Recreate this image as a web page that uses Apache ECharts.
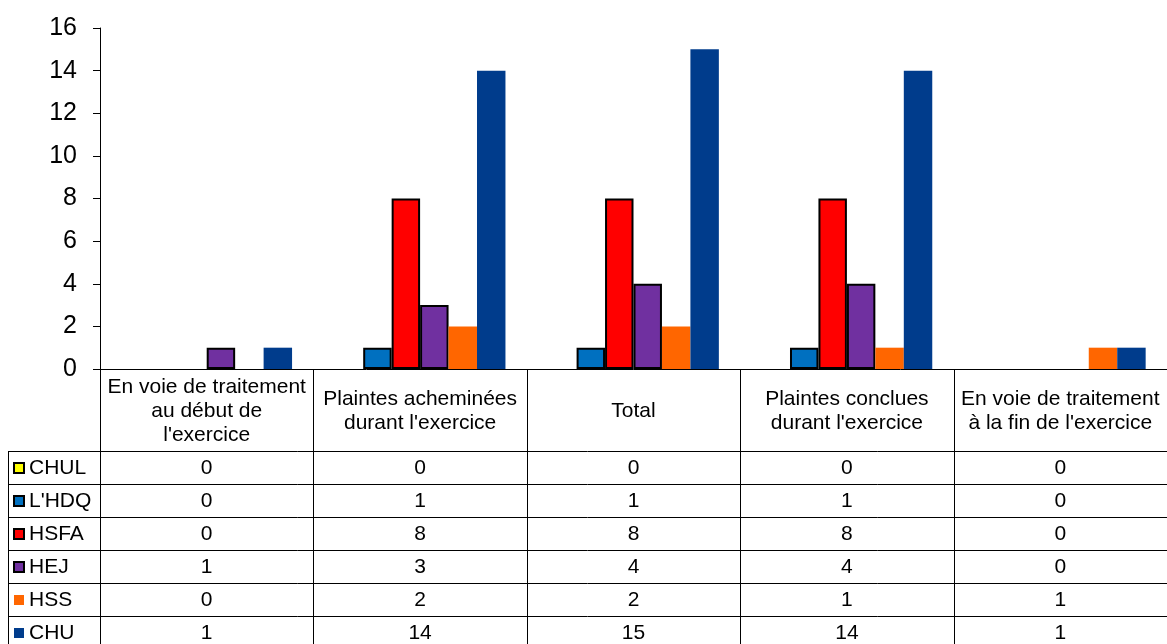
<!DOCTYPE html>
<html>
<head>
<meta charset="utf-8">
<script src="https://cdn.jsdelivr.net/npm/echarts@6/dist/echarts.min.js"></script>
<style>
html,body{margin:0;padding:0;background:#fff;}
#main{width:1167px;height:644px;}
</style>
</head>
<body>
<div id="main"></div>
<script>
// categories (header row of the data table)
var categories = [
    "En voie de traitement\nau début de\nl'exercice",
    "Plaintes acheminées\ndurant l'exercice",
    "Total",
    "Plaintes conclues\ndurant l'exercice",
    "En voie de traitement\nà la fin de l'exercice"
];
var seriesNames = ['CHUL', "L'HDQ", 'HSFA', 'HEJ', 'HSS', 'CHU'];
var chulData = [0, 0, 0, 0, 0];
var hdqData  = [0, 1, 1, 1, 0];
var hsfaData = [0, 8, 8, 8, 0];
var hejData  = [1, 3, 4, 4, 0];
var hssData  = [0, 2, 2, 1, 1];
var chuData  = [1, 14, 15, 14, 1];
var yTicks = [0, 2, 4, 6, 8, 10, 12, 14, 16];

var allData = [chulData, hdqData, hsfaData, hejData, hssData, chuData];
var colors = ['#FFFF00', '#0070C0', '#FF0000', '#7030A0', '#FF6600', '#003C8C'];
var bordered = [true, true, true, true, false, false];

var W = 1167, H = 644;
var gridLeft = 100, gridTop = 28, zeroY = 369;
var tableLeft = 8;
var rowTop = 451, rowH = 33;
var colW = (W - gridLeft) / categories.length;
var font = '"Liberation Sans", Arial, sans-serif';

var myChart = echarts.init(document.getElementById('main'));

var series = seriesNames.map(function (name, i) {
    return {
        name: name,
        type: 'bar',
        barGap: '0%',
        barCategoryGap: '20%',
        // zero bars get no outline, as in the original
        data: allData[i].map(function (v) {
            return {
                value: v,
                itemStyle: {
                    color: colors[i],
                    borderColor: '#000',
                    borderWidth: (bordered[i] && v > 0) ? 2 : 0
                }
            };
        })
    };
});

// data table drawn as graphic elements
var g = [];
function line(x1, y1, x2, y2) {
    g.push({type: 'line', shape: {x1: x1, y1: y1, x2: x2, y2: y2},
        style: {stroke: '#000', lineWidth: 1}, z: 10});
}
function text(x, y, s, align) {
    g.push({type: 'text', x: x, y: y,
        style: {text: s, fill: '#000', font: '21px ' + font,
            align: align || 'center', verticalAlign: 'middle', lineHeight: 24}, z: 10});
}
var nRows = seriesNames.length;
// vertical lines (no right border)
for (var c = 0; c < categories.length; c++) {
    var x = Math.round(gridLeft + c * colW) + 0.5;
    line(x, zeroY, x, H);
}
line(tableLeft + 0.5, rowTop, tableLeft + 0.5, H);
// horizontal lines
for (var r = 0; r < nRows; r++) {
    var y = rowTop + r * rowH + 0.5;
    line(tableLeft, y, W, y);
}
// header text
categories.forEach(function (cat, c) {
    text(gridLeft + (c + 0.5) * colW, (zeroY + rowTop) / 2 + 1, cat);
});
// rows
seriesNames.forEach(function (name, r) {
    var cy = rowTop + r * rowH + rowH / 2 + 0.5;
    g.push({type: 'rect', shape: {x: 14, y: cy - 5, width: 10, height: 10},
        style: {fill: colors[r], stroke: bordered[r] ? '#000' : null, lineWidth: bordered[r] ? 2 : 0}, z: 10});
    text(29, cy, name, 'left');
    allData[r].forEach(function (v, c) {
        text(gridLeft + (c + 0.5) * colW, cy, String(v));
    });
});

var option = {
    animation: false,
    backgroundColor: '#fff',
    grid: {left: gridLeft, right: 0, top: gridTop, bottom: H - zeroY, containLabel: false},
    xAxis: {
        type: 'category',
        data: categories,
        axisLine: {show: true, lineStyle: {color: '#000', width: 1}},
        axisTick: {show: false},
        axisLabel: {show: false}
    },
    yAxis: {
        type: 'value',
        min: yTicks[0],
        max: yTicks[yTicks.length - 1],
        interval: 2,
        splitLine: {show: false},
        axisLine: {show: true, lineStyle: {color: '#000', width: 1}},
        axisTick: {show: true, length: 7, lineStyle: {color: '#000'}},
        axisLabel: {color: '#000', fontSize: 25, fontFamily: font, margin: 23}
    },
    series: series,
    graphic: g
};
myChart.setOption(option);
</script>
</body>
</html>
